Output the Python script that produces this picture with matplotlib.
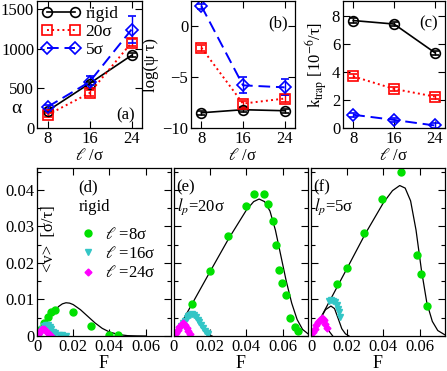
import matplotlib
matplotlib.use("Agg")
import matplotlib.pyplot as plt
from matplotlib.ticker import MultipleLocator, FixedLocator, FixedFormatter

plt.rcParams['font.family'] = ['Liberation Serif', 'DejaVu Serif']
plt.rcParams['mathtext.fontset'] = 'stix'
plt.rcParams['font.size'] = 12

# ---------------- data: top panels ----------------
ell = [8, 16, 24]
alpha_rigid = [215, 560, 915]
alpha_rigid_err = [15, 20, 25]
alpha_20 = [165, 440, 1075]
alpha_20_err = [25, 35, 40]
alpha_5 = [265, 580, 1240]
alpha_5_err = [20, 70, 165]

logpsi_rigid = [-8.5, -8.2, -8.3]
logpsi_rigid_err = [0.2, 0.2, 0.2]
logpsi_20 = [-2.1, -7.6, -7.1]
logpsi_20_err = [0.3, 0.3, 0.3]
logpsi_5 = [2.0, -5.8, -6.0]
logpsi_5_err = [0.25, 0.8, 0.8]

ktrap_rigid = [7.7, 7.45, 5.4]
ktrap_20 = [3.7, 2.8, 2.25]
ktrap_5 = [0.95, 0.58, 0.18]
ktrap_err = [0.15, 0.15, 0.15]

# ---------------- data: bottom panels ----------------
# (d) rigid
d8_F = [0.002, 0.004, 0.006, 0.008, 0.010, 0.020, 0.030, 0.040, 0.045]
d8_v = [0.0018, 0.0035, 0.0052, 0.0066, 0.0072, 0.0065, 0.0027, 0.0004, 0.0002]
d16_F = [0.001, 0.002, 0.003, 0.004, 0.005, 0.006, 0.007, 0.008, 0.009, 0.010, 0.012, 0.014, 0.016]
d16_v = [0.0004, 0.0012, 0.0020, 0.0027, 0.0030, 0.0029, 0.0024, 0.0018, 0.0012, 0.0008, 0.0004, 0.0002, 0.0001]
d24_F = [0.0, 0.001, 0.002, 0.003, 0.004, 0.005, 0.006, 0.007, 0.008]
d24_v = [0.0002, 0.0009, 0.0016, 0.0020, 0.0019, 0.0013, 0.0008, 0.0003, 0.0001]
dc8_F = [0, 0.003, 0.006, 0.009, 0.012, 0.014, 0.016, 0.018, 0.020, 0.024, 0.028, 0.032, 0.036, 0.040, 0.045, 0.050, 0.055, 0.060]
dc8_v = [0, 0.0022, 0.0045, 0.0065, 0.0081, 0.0088, 0.0091, 0.0090, 0.0086, 0.0072, 0.0054, 0.0036, 0.0021, 0.0011, 0.0004, 0.0001, 0.00003, 0]
dc16_F = [0, 0.002, 0.004, 0.005, 0.006, 0.008, 0.010, 0.012, 0.015]
dc16_v = [0, 0.0015, 0.0030, 0.0033, 0.0032, 0.0022, 0.0010, 0.0003, 0]
dc24_F = [0, 0.001, 0.002, 0.003, 0.004, 0.005, 0.006, 0.008]
dc24_v = [0, 0.0009, 0.0017, 0.0020, 0.0018, 0.0011, 0.0005, 0]

# (e) lp = 20 sigma
e8_F = [0.0097, 0.0197, 0.0298, 0.0398, 0.0444, 0.0495, 0.0520, 0.0544, 0.0566, 0.0581, 0.0595, 0.0617, 0.0643, 0.0667, 0.0685]
e8_v = [0.0087, 0.0178, 0.0273, 0.0357, 0.0389, 0.0389, 0.0362, 0.0316, 0.0248, 0.0182, 0.0146, 0.0112, 0.0048, 0.0025, 0.0015]
e16_F = [0.003, 0.004, 0.005, 0.006, 0.007, 0.008, 0.009, 0.010, 0.011, 0.012, 0.013, 0.014, 0.015, 0.016, 0.017, 0.018, 0.019]
e16_v = [0.0020, 0.0027, 0.0035, 0.0042, 0.0050, 0.0055, 0.0058, 0.0059, 0.0057, 0.0052, 0.0045, 0.0037, 0.0029, 0.0021, 0.0014, 0.0009, 0.0005]
e24_F = [0.001, 0.002, 0.003, 0.004, 0.005, 0.006, 0.007, 0.008, 0.009]
e24_v = [0.0008, 0.0016, 0.0024, 0.0030, 0.0036, 0.0031, 0.0022, 0.0013, 0.0006]
ec8_F = [0, 0.010, 0.020, 0.030, 0.040, 0.044, 0.047, 0.050, 0.053, 0.056, 0.059, 0.062, 0.065, 0.068, 0.071, 0.074]
ec8_v = [0, 0.0088, 0.0177, 0.0265, 0.0345, 0.0368, 0.0375, 0.0368, 0.0342, 0.0290, 0.0220, 0.0150, 0.0090, 0.0045, 0.0018, 0.0006]
ec16_F = [0, 0.003, 0.006, 0.009, 0.011, 0.013, 0.015, 0.017, 0.019, 0.021]
ec16_v = [0, 0.0021, 0.0042, 0.0057, 0.0055, 0.0042, 0.0025, 0.0011, 0.0003, 0]
ec24_F = [0, 0.001, 0.002, 0.003, 0.004, 0.005, 0.006, 0.007, 0.008, 0.010]
ec24_v = [0, 0.0008, 0.0016, 0.0024, 0.0030, 0.0034, 0.0030, 0.0019, 0.0009, 0]

# (f) lp = 5 sigma
f8_F = [0.0146, 0.0197, 0.0294, 0.0393, 0.0495, 0.0588, 0.0608, 0.0639]
f8_v = [0.0142, 0.0187, 0.0283, 0.0375, 0.0449, 0.0223, 0.0171, 0.0082]
f16_F = [0.0097, 0.0112, 0.0124, 0.0135, 0.0142, 0.0148, 0.0155, 0.0160]
f16_v = [0.0096, 0.0098, 0.0096, 0.0092, 0.0085, 0.0075, 0.0066, 0.0053]
f24_F = [0.001, 0.002, 0.003, 0.004, 0.005, 0.006, 0.0065, 0.007, 0.008, 0.009]
f24_v = [0.0010, 0.0020, 0.0030, 0.0038, 0.0044, 0.0048, 0.0047, 0.0043, 0.0032, 0.0022]
fc8_F = [0, 0.010, 0.020, 0.030, 0.040, 0.045, 0.049, 0.052, 0.055, 0.058, 0.061, 0.064, 0.067, 0.070, 0.074]
fc8_v = [0, 0.0093, 0.0186, 0.0280, 0.0365, 0.0398, 0.0412, 0.0405, 0.0370, 0.0290, 0.0180, 0.0090, 0.0040, 0.0015, 0.0003]
fc16_F = [0, 0.004, 0.008, 0.011, 0.013, 0.015, 0.017, 0.019, 0.021]
fc16_v = [0, 0.0037, 0.0072, 0.0082, 0.0075, 0.0048, 0.0020, 0.0006, 0]
fc24_F = [0, 0.002, 0.004, 0.0065, 0.008, 0.009, 0.010, 0.012]
fc24_v = [0, 0.0018, 0.0036, 0.0046, 0.0038, 0.0025, 0.0013, 0]

v_ticks = [0, 0.01, 0.02, 0.03, 0.04]
v_ticklabels = ['0', '0.01', '0.02', '0.03', '0.04']
F_ticks = [0, 0.02, 0.04, 0.06]
F_ticklabels = ['0', '0.02', '0.04', '0.06']

W, H = 447, 371
fig = plt.figure(figsize=(W / 100, H / 100), dpi=100)

def px_axes(x0, y0, x1, y1):
    return fig.add_axes([x0 / W, 1 - y1 / H, (x1 - x0) / W, (y1 - y0) / H])

def style(ax):
    ax.tick_params(which='both', direction='in', top=True, right=True, labelsize=12, pad=2)
    ax.tick_params(which='major', length=5, width=0.8)
    ax.tick_params(which='minor', length=3, width=0.8)
    for s in ax.spines.values():
        s.set_linewidth(0.9)

BLK, RED, BLU = 'black', '#ff0000', '#0000ff'
mkw = dict(markersize=7, markeredgewidth=1.2, markerfacecolor='none', capsize=3, elinewidth=1.0, capthick=1.0)
mkw_d = {**mkw, 'markersize': 6.5}
DASH = (0, (6, 3))

axa = px_axes(37, 1, 142, 128)
axb = px_axes(191, 1, 295, 128)
axc = px_axes(343, 1, 445, 128)

# (a)
ea = axa.errorbar(ell, alpha_rigid, yerr=alpha_rigid_err, color=BLK, marker='o', ls='-', lw=1.2, **mkw)
eb = axa.errorbar(ell, alpha_20, yerr=alpha_20_err, color=RED, marker='s', ls=':', lw=1.4, **mkw)
ec = axa.errorbar(ell, alpha_5, yerr=alpha_5_err, color=BLU, marker='D', ls=DASH, lw=1.4, **mkw_d)
axa.set_ylim(0, 1600)
axa.yaxis.set_major_locator(FixedLocator([0, 500, 1000, 1500]))
axa.set_ylabel('α', rotation=0, fontsize=14)
axa.yaxis.set_label_coords(-0.2, 0.09)
axa.legend([ea[0], eb[0], ec[0]], ['rigid', '20σ', '5σ'], loc='upper left', frameon=False, numpoints=2,
           handlelength=2.2, handletextpad=0.3, borderaxespad=0.1, labelspacing=0.1,
           fontsize=12.5, borderpad=0.2)
axa.text(0.93, 0.1, '(a)', transform=axa.transAxes, ha='right', va='center', fontsize=12)

# (b)
axb.errorbar(ell, logpsi_rigid, yerr=logpsi_rigid_err, color=BLK, marker='o', ls='-', lw=1.2, **mkw)
axb.errorbar(ell, logpsi_20, yerr=logpsi_20_err, color=RED, marker='s', ls=':', lw=1.4, **mkw)
axb.errorbar(ell, logpsi_5, yerr=logpsi_5_err, color=BLU, marker='D', ls=DASH, lw=1.4, **mkw_d)
axb.set_ylim(-10, 2.5)
axb.yaxis.set_major_locator(FixedLocator([-10, -5, 0]))
axb.set_ylabel('log(ψ τ)', fontsize=12, labelpad=2)
axb.text(0.93, 0.82, '(b)', transform=axb.transAxes, ha='right', va='center', fontsize=12)

# (c)
axc.errorbar(ell, ktrap_rigid, yerr=ktrap_err, color=BLK, marker='o', ls='-', lw=1.2, **mkw)
axc.errorbar(ell, ktrap_20, yerr=ktrap_err, color=RED, marker='s', ls=':', lw=1.4, **mkw)
axc.errorbar(ell, ktrap_5, yerr=ktrap_err, color=BLU, marker='D', ls=DASH, lw=1.4, **mkw_d)
axc.set_ylim(0, 9.1)
axc.yaxis.set_major_locator(FixedLocator([0, 2, 4, 6, 8]))
axc.set_ylabel(r'k$_{\rm trap}$ [10$^{-6}$/τ]', fontsize=12, labelpad=2)
axc.text(0.93, 0.82, '(c)', transform=axc.transAxes, ha='right', va='center', fontsize=12)

for ax in (axa, axb, axc):
    ax.set_xlim(6, 26)
    ax.xaxis.set_major_locator(FixedLocator(ell))
    ax.set_xlabel(r'$\ell$ /σ', fontsize=12, labelpad=1)
    style(ax)

# bottom panels
axd = px_axes(37, 168, 171, 336)
axe = px_axes(174, 168, 308, 336)
axf = px_axes(311, 168, 445, 336)

GRN, CYN, MAG = '#00e000', '#33c6c6', '#ff00ff'

def bottom(ax, g, c, m, cg, cc, cm, labels=False):
    ax.plot(cg[0], cg[1], color='black', lw=0.9)
    ax.plot(cc[0], cc[1], color='black', lw=0.9)
    ax.plot(cm[0], cm[1], color='black', lw=0.9)
    ax.plot(g[0], g[1], 'o', color=GRN, ms=5, mec=GRN, ls='none',
            label=r'$\ell$ =8σ' if labels else None)
    ax.plot(c[0], c[1], 'v', color=CYN, ms=5, mec=CYN, ls='none',
            label=r'$\ell$ =16σ' if labels else None)
    ax.plot(m[0], m[1], 'D', color=MAG, ms=3.5, mec=MAG, ls='none',
            label=r'$\ell$ =24σ' if labels else None)
    ax.set_xlim(0, 0.074)
    ax.set_ylim(0, 0.046)
    ax.xaxis.set_major_locator(FixedLocator(F_ticks))
    ax.xaxis.set_major_formatter(FixedFormatter(F_ticklabels))
    ax.yaxis.set_major_locator(FixedLocator(v_ticks))
    ax.yaxis.set_minor_locator(MultipleLocator(0.005))
    ax.set_xlabel('F', fontsize=13, labelpad=0)
    style(ax)

bottom(axd, (d8_F, d8_v), (d16_F, d16_v), (d24_F, d24_v),
       (dc8_F, dc8_v), (dc16_F, dc16_v), (dc24_F, dc24_v), labels=True)
bottom(axe, (e8_F, e8_v), (e16_F, e16_v), (e24_F, e24_v),
       (ec8_F, ec8_v), (ec16_F, ec16_v), (ec24_F, ec24_v))
bottom(axf, (f8_F, f8_v), (f16_F, f16_v), (f24_F, f24_v),
       (fc8_F, fc8_v), (fc16_F, fc16_v), (fc24_F, fc24_v))

axd.yaxis.set_major_formatter(FixedFormatter(v_ticklabels))
axe.tick_params(labelleft=False)
axf.tick_params(labelleft=False)

axd.legend(loc='upper left', bbox_to_anchor=(0.32, 0.65), frameon=False, handlelength=1.0,
           handletextpad=0.5, labelspacing=0.2, fontsize=12, borderpad=0, borderaxespad=0)
axd.text(0.31, 0.885, '(d)', transform=axd.transAxes, ha='left', va='center', fontsize=12)
axd.text(0.31, 0.77, 'rigid', transform=axd.transAxes, ha='left', va='center', fontsize=12)
axd.text(0.09, 0.58, '<v>  [σ/τ]', transform=axd.transAxes, rotation=90, ha='center', va='center', fontsize=12)

axe.text(0.02, 0.885, '(e)', transform=axe.transAxes, ha='left', va='center', fontsize=12)
axe.text(0.02, 0.77, r'$l_p$=20σ', transform=axe.transAxes, ha='left', va='center', fontsize=12)
axf.text(0.02, 0.885, '(f)', transform=axf.transAxes, ha='left', va='center', fontsize=12)
axf.text(0.02, 0.77, r'$l_p$=5σ', transform=axf.transAxes, ha='left', va='center', fontsize=12)

fig.savefig('out.png', dpi=100)
